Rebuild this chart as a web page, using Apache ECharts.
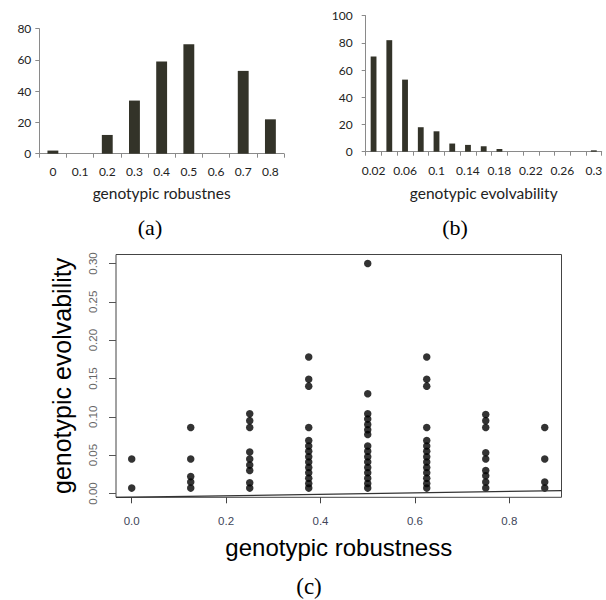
<!DOCTYPE html>
<html>
<head>
<meta charset="utf-8">
<script src="https://cdn.jsdelivr.net/npm/echarts@6/dist/echarts.min.js"></script>
<style>
html,body{margin:0;padding:0;background:#fff;}
#chart{width:606px;height:600px;}
</style>
</head>
<body>
<div id="chart"></div>
<script>
// (a) histogram of genotypic robustness
const robustBins = ['0','0.1','0.2','0.3','0.4','0.5','0.6','0.7','0.8'];
const robustCounts = [2, 0, 12, 34, 59, 70, 0, 53, 22];

// (b) histogram of genotypic evolvability
const evolBins = ['0.02','0.04','0.06','0.08','0.1','0.12','0.14','0.16','0.18','0.2','0.22','0.24','0.26','0.28','0.3'];
const evolCounts = [70, 82, 53, 18, 15, 6, 5, 4, 2, 0, 0, 0, 0, 0, 1];

// (c) scatter: evolvability values at each robustness level
const robustLevels = [0, 0.125, 0.25, 0.375, 0.5, 0.625, 0.75, 0.875];
const evolAt000 = [0.045, 0.007];
const evolAt125 = [0.086, 0.045, 0.022, 0.015, 0.007];
const evolAt250 = [0.104, 0.095, 0.086, 0.054, 0.045, 0.037, 0.030, 0.014, 0.007];
const evolAt375 = [0.178, 0.149, 0.140, 0.086, 0.069, 0.062, 0.055, 0.048, 0.041, 0.034, 0.027, 0.020, 0.013, 0.007];
const evolAt500 = [0.300, 0.130, 0.104, 0.097, 0.090, 0.083, 0.077, 0.062, 0.055, 0.048, 0.041, 0.034, 0.027, 0.020, 0.013, 0.007];
const evolAt625 = [0.178, 0.149, 0.140, 0.086, 0.069, 0.062, 0.055, 0.048, 0.041, 0.034, 0.027, 0.020, 0.013, 0.007];
const evolAt750 = [0.103, 0.095, 0.086, 0.053, 0.045, 0.030, 0.023, 0.015, 0.007];
const evolAt875 = [0.086, 0.045, 0.015, 0.007];
const evolByLevel = [evolAt000, evolAt125, evolAt250, evolAt375, evolAt500, evolAt625, evolAt750, evolAt875];

// faint fitted line along the bottom of panel (c)
const trendX = [-0.0333, 0.9105];
const trendY = [-0.0052, 0.0037];

// tick labels
const scatterXTicks = [0, 0.2, 0.4, 0.6, 0.8];
const scatterYTicks = [0, 0.05, 0.10, 0.15, 0.20, 0.25, 0.30];

const scatterData = [];
robustLevels.forEach((r, i) => evolByLevel[i].forEach(v => scatterData.push([r, v])));
const trendData = trendX.map((x, i) => [x, trendY[i]]);

const barColor = '#333329';
const excelAxis = '#8a8a8a';
const excelFont = 'Lato, "Open Sans", sans-serif';
const rFont = '"Liberation Sans", Arial, sans-serif';

const chart = echarts.init(document.getElementById('chart'), null, {renderer: 'svg'});
chart.setOption({
  animation: false,
  backgroundColor: '#ffffff',
  grid: [
    {left: 39.3, top: 28.7, width: 244.7, height: 125},
    {left: 365.7, top: 15.7, width: 236, height: 136},
    {left: 116, top: 254.5, width: 445.5, height: 242.8, show: true, borderColor: '#444', borderWidth: 1, backgroundColor: '#fff'}
  ],
  xAxis: [
    {
      gridIndex: 0, type: 'category', data: robustBins, boundaryGap: true,
      axisLine: {lineStyle: {color: excelAxis, width: 1}},
      axisTick: {show: true, length: 4, lineStyle: {color: excelAxis}},
      axisLabel: {color: '#222', fontSize: 12, fontFamily: excelFont, margin: 12, interval: 0},
      name: 'genotypic robustnes', nameLocation: 'middle', nameGap: 31,
      nameTextStyle: {color: '#222', fontSize: 15.5, fontFamily: excelFont}
    },
    {
      gridIndex: 1, type: 'category', data: evolBins, boundaryGap: true,
      axisLine: {lineStyle: {color: excelAxis, width: 1}},
      axisTick: {show: true, length: 4, interval: 0, lineStyle: {color: excelAxis}},
      axisLabel: {color: '#222', fontSize: 12, fontFamily: excelFont, margin: 13, interval: 1},
      name: 'genotypic evolvability', nameLocation: 'middle', nameGap: 33,
      nameTextStyle: {color: '#222', fontSize: 15.5, fontFamily: excelFont}
    },
    {
      gridIndex: 2, type: 'value', min: -0.0333, max: 0.9105,
      splitLine: {show: false},
      axisLine: {show: false, onZero: false},
      axisTick: {show: true, length: 6, customValues: scatterXTicks, lineStyle: {color: '#444'}},
      axisLabel: {customValues: scatterXTicks, formatter: v => v.toFixed(1), color: '#404659', fontSize: 11.5, fontFamily: rFont, margin: 18},
      name: 'genotypic robustness', nameLocation: 'middle', nameGap: 38,
      nameTextStyle: {color: '#000', fontSize: 24, fontFamily: rFont}
    }
  ],
  yAxis: [
    {
      gridIndex: 0, type: 'value', min: 0, max: 80, interval: 20,
      splitLine: {show: false},
      axisLine: {show: true, lineStyle: {color: excelAxis, width: 1}},
      axisTick: {show: true, length: 4, lineStyle: {color: excelAxis}},
      axisLabel: {color: '#222', fontSize: 12, fontFamily: excelFont, margin: 8}
    },
    {
      gridIndex: 1, type: 'value', min: 0, max: 100, interval: 20,
      splitLine: {show: false},
      axisLine: {show: true, lineStyle: {color: excelAxis, width: 1}},
      axisTick: {show: true, length: 4, lineStyle: {color: excelAxis}},
      axisLabel: {color: '#222', fontSize: 12, fontFamily: excelFont, margin: 13}
    },
    {
      gridIndex: 2, type: 'value', min: -0.005, max: 0.3117,
      splitLine: {show: false},
      axisLine: {show: false, onZero: false},
      axisTick: {show: true, length: 7, customValues: scatterYTicks, lineStyle: {color: '#555'}},
      axisLabel: {customValues: scatterYTicks, formatter: v => v.toFixed(2), rotate: 90, color: '#666', fontSize: 11.5, fontFamily: rFont, margin: 17},
      name: 'genotypic evolvability', nameLocation: 'middle', nameGap: 42,
      nameTextStyle: {color: '#000', fontSize: 25, fontFamily: rFont}
    }
  ],
  series: [
    {type: 'bar', xAxisIndex: 0, yAxisIndex: 0, data: robustCounts, barWidth: '40%', itemStyle: {color: barColor}},
    {type: 'bar', xAxisIndex: 1, yAxisIndex: 1, data: evolCounts, barWidth: '37%', itemStyle: {color: barColor}},
    {type: 'line', xAxisIndex: 2, yAxisIndex: 2, data: trendData, symbol: 'none', lineStyle: {color: '#333', width: 1.2}, silent: true},
    {type: 'scatter', xAxisIndex: 2, yAxisIndex: 2, data: scatterData, symbol: 'circle', symbolSize: 7.5, itemStyle: {color: '#000'}}
  ],
  graphic: [
    {type: 'text', x: 150, y: 227.5, style: {text: '(a)', font: '22px "Liberation Serif", "Times New Roman", serif', fill: '#000', align: 'center', verticalAlign: 'middle'}},
    {type: 'text', x: 455, y: 227.5, style: {text: '(b)', font: '22px "Liberation Serif", "Times New Roman", serif', fill: '#000', align: 'center', verticalAlign: 'middle'}},
    {type: 'text', x: 309, y: 586, style: {text: '(c)', font: '23px "Liberation Serif", "Times New Roman", serif', fill: '#000', align: 'center', verticalAlign: 'middle'}}
  ]
});
</script>
</body>
</html>
